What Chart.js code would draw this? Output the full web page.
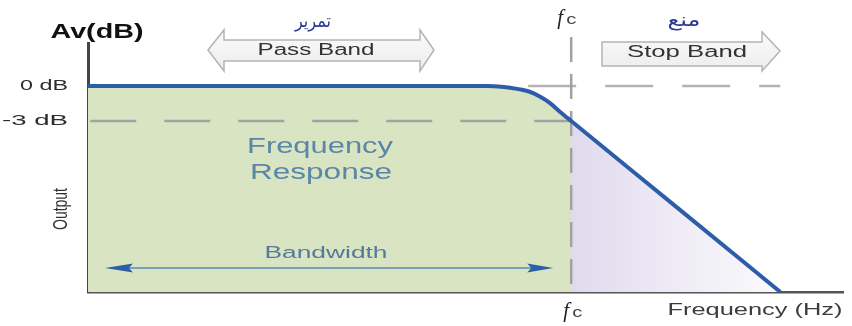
<!DOCTYPE html>
<html>
<head>
<meta charset="utf-8">
<script src="https://cdn.jsdelivr.net/npm/chart.js@4/dist/chart.umd.min.js"></script>
<style>
  body{margin:0;background:#fff;}
  #wrap{width:852px;height:326px;}
</style>
</head>
<body>
<div id="wrap"><canvas id="c" width="852" height="326"></canvas></div>
<script>
// --- data (frequency in arbitrary units, gain in dB) ---
const freq   = [0, 50, 53, 55.9, 58.5, 59.9, 61.2, 62.5, 64, 78, 91.7];
const gainDb = [0, 0, 0, -0.15, -0.49, -0.92, -1.46, -2.2, -3, -10.4, -17.66];
const fc = 64;
const yTicks = [0, -3];
const yTickLabels = ["0 dB", "-3 dB"];
const yMin = -17.66, yMax = 3.69;

const curve = freq.map((f,i)=>({x:f, y:gainDb[i]}));

// --- helpers ---
function stretchText(ctx, s, x, y, font, color, w, align){
  ctx.save();
  ctx.font = font; ctx.fillStyle = color;
  ctx.textBaseline = "middle"; ctx.textAlign = align || "center";
  const sx = w / ctx.measureText(s).width;
  ctx.translate(x, y); ctx.scale(sx, 1);
  ctx.fillText(s, 0, 0);
  ctx.restore();
}

function fcLabel(ctx, x, y){
  ctx.save();
  ctx.textBaseline = "alphabetic"; ctx.textAlign = "left";
  ctx.fillStyle = "#222";
  ctx.font = "italic 21px 'Liberation Serif'";
  ctx.fillText("f", x-12, y+6);
  ctx.fillStyle = "#444";
  ctx.font = "15px 'Liberation Sans'";
  ctx.save(); ctx.translate(x-3, y+6); ctx.scale(1.35,1); ctx.fillText("c", 0, 0); ctx.restore();
  ctx.restore();
}

function blockArrow(ctx, pts){
  ctx.save();
  ctx.beginPath();
  pts.forEach((p,i)=> i ? ctx.lineTo(p[0],p[1]) : ctx.moveTo(p[0],p[1]));
  ctx.closePath();
  const g = ctx.createLinearGradient(0, 30, 0, 72);
  g.addColorStop(0, "#fbfbfb"); g.addColorStop(1, "#ececec");
  ctx.fillStyle = g; ctx.fill();
  ctx.strokeStyle = "#b4b4b4"; ctx.lineWidth = 1.5; ctx.stroke();
  ctx.restore();
}

function arrowHead(ctx, tipX, baseX, y){
  ctx.beginPath();
  ctx.moveTo(tipX, y); ctx.lineTo(baseX, y-4.5); ctx.lineTo(baseX+(tipX<baseX?-4:4), y); ctx.lineTo(baseX, y+4.5);
  ctx.closePath(); ctx.fill();
}

// --- annotations ---
const annotations = {
  id: "annotations",
  afterDraw(chart){
    const ctx = chart.ctx, xs = chart.scales.x, ys = chart.scales.y;
    const fcX = xs.getPixelForValue(fc);

    // y tick labels
    yTicks.forEach((v,i)=>{
      const w = i ? 66 : 48;
      stretchText(ctx, yTickLabels[i], 68, ys.getPixelForValue(v), "15px 'Liberation Sans'", "#2e2e2e", w, "right");
    });

    stretchText(ctx, "Av(dB)", 97, 32, "bold 20px 'Liberation Sans'", "#111", 93);

    // Output (rotated)
    ctx.save();
    ctx.translate(62, 209); ctx.scale(1.4, 1); ctx.rotate(-Math.PI/2);
    ctx.font = "14px 'Liberation Sans'"; ctx.fillStyle = "#333";
    ctx.textAlign = "center"; ctx.textBaseline = "middle";
    ctx.fillText("Output", 0, 0);
    ctx.restore();

    stretchText(ctx, "Frequency", 320, 147, "22px 'Liberation Sans'", "#5a86a8", 146);
    stretchText(ctx, "Response", 321, 173, "22px 'Liberation Sans'", "#5a86a8", 142);
    stretchText(ctx, "Bandwidth", 326, 254, "16px 'Liberation Sans'", "#57799c", 123);

    // bandwidth arrow
    const bwY = ys.getPixelForValue(-15.6);
    ctx.save();
    ctx.strokeStyle = "#5a8ab5"; ctx.lineWidth = 1.5;
    ctx.beginPath(); ctx.moveTo(120, bwY); ctx.lineTo(fcX-25, bwY); ctx.stroke();
    ctx.fillStyle = "#2d5fa6";
    arrowHead(ctx, 105, 133, bwY);
    arrowHead(ctx, fcX-18, fcX-44, bwY);
    ctx.restore();

    // band arrows
    blockArrow(ctx, [[208,50],[224,30],[224,40],[420,40],[420,30],[434,50],[420,71],[420,61],[224,61],[224,71]]);
    stretchText(ctx, "Pass Band", 316, 51, "16px 'Liberation Sans'", "#333", 117);
    stretchText(ctx, "تمرير", 313, 22, "19px 'DejaVu Sans'", "#2b3990", 36);

    blockArrow(ctx, [[602,42],[762,42],[762,32],[780,51],[762,71],[762,66],[602,66]]);
    stretchText(ctx, "Stop Band", 687, 53, "16px 'Liberation Sans'", "#333", 120);
    stretchText(ctx, "منع", 684, 21, "19px 'DejaVu Sans'", "#2b3990", 33);

    stretchText(ctx, "Frequency (Hz)", 755, 311, "16px 'Liberation Sans'", "#3c3c3c", 175);
    fcLabel(ctx, fcX+4, 311);
    fcLabel(ctx, fcX-2, 18);
  }
};

// --- fill gradient: green up to fc, fading lavender after ---
function areaFill(c){
  const chart = c.chart, a = chart.chartArea;
  if(!a) return null;
  const xs = chart.scales.x, w = a.right - a.left;
  const p = (xs.getPixelForValue(fc) - a.left) / w;
  const pe = (xs.getPixelForValue(freq[freq.length-1]) - a.left) / w;
  const g = chart.ctx.createLinearGradient(a.left, 0, a.right, 0);
  g.addColorStop(0, "#d9e5c2"); g.addColorStop(p, "#d9e5c2");
  g.addColorStop(p, "#e0daee"); g.addColorStop((p+pe)/2, "#eeebf5"); g.addColorStop(pe, "#fbfafd"); g.addColorStop(1, "#ffffff");
  return g;
}

const dash = {pointRadius:0, borderColor:"#a2a2a2", borderWidth:2.5, tension:0, fill:false, order:2};

new Chart(document.getElementById("c"), {
  type: "line",
  data: {
    datasets: [
      {data: curve, borderColor:"#2d5ca8", borderWidth:4, pointRadius:0, cubicInterpolationMode:"monotone", fill:false, order:1},
      {...dash, data:[{x:fc,y:4.2},{x:fc,y:yMin}], borderDash:[25,12], clip:false},
      {...dash, data:[{x:0.3,y:-3},{x:fc,y:-3}], borderDash:[46,28]},
      {...dash, borderColor:"#b4b4b4", data:[{x:58.3,y:0},{x:freq[freq.length-1],y:0}], borderDash:[48,29]},
      {data: curve, borderWidth:0, pointRadius:0, cubicInterpolationMode:"monotone", fill:"start", backgroundColor:areaFill, order:3}
    ]
  },
  options: {
    responsive: false,
    animation: false,
    layout: {padding:{top:43, right:9, left:0, bottom:0}},
    plugins: {legend:{display:false}, tooltip:{enabled:false}},
    scales: {
      x: {type:"linear", min:0, max:100, grid:{display:false}, ticks:{display:false},
          border:{display:true, color:"#555", width:2.5}, afterFit(s){ s.height = 34; }},
      y: {min:yMin, max:yMax, grid:{display:false}, ticks:{display:false},
          border:{display:true, color:"#444", width:3}, afterFit(s){ s.width = 88; }}
    }
  },
  plugins: [annotations]
});
</script>
</body>
</html>
